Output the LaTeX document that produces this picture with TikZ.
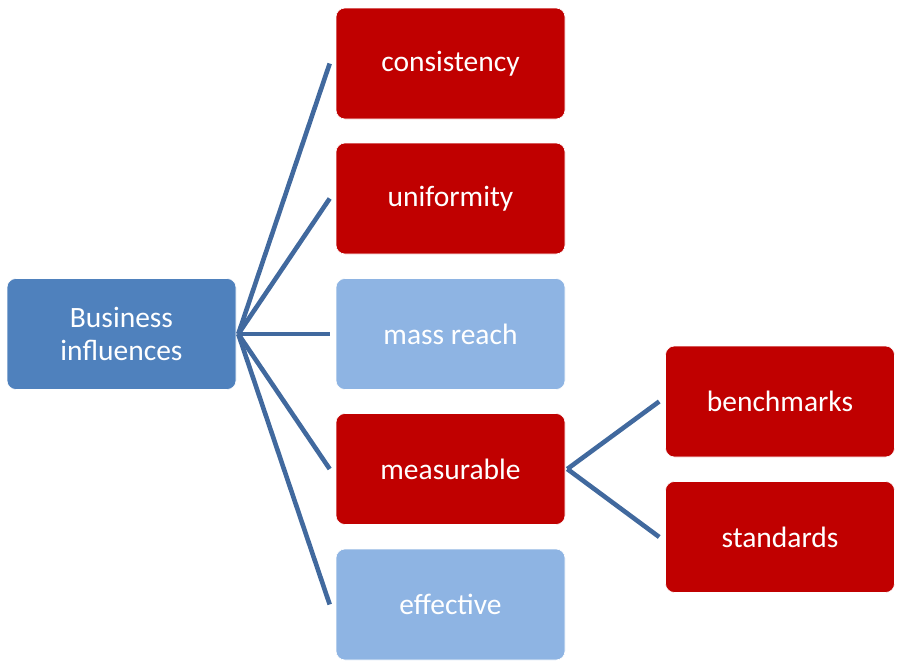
\documentclass[tikz,border=0pt]{standalone}
\usepackage{fontspec}
\setmainfont{Carlito}
\definecolor{parentblue}{HTML}{4F81BD}
\definecolor{darkred}{HTML}{C00000}
\definecolor{lightblue}{HTML}{8EB4E3}
\definecolor{linkblue}{HTML}{41699E}
\begin{document}
\begin{tikzpicture}[x=1pt,y=-1pt,
  box/.style={rounded corners=9pt, minimum width=229pt, minimum height=111pt, inner sep=0pt,
    draw=white, line width=0.6pt, text=white, align=center,
    font=\fontsize{29.5}{32.5}\selectfont},
  redbox/.style={box, fill=darkred},
  lightbox/.style={box, fill=lightblue},
  parentbox/.style={box, fill=parentblue},
  link/.style={draw=linkblue, line width=4.6pt}]
\useasboundingbox (0,0) rectangle (898,664);
\node[parentbox] (p) at (121.5,334) {Business\\influences};
\node[redbox] (c1) at (450.5,63.5) {consistency};
\node[redbox] (c2) at (450.5,198.5) {uniformity};
\node[lightbox] (c3) at (450.5,334) {mass reach};
\node[redbox] (c4) at (450.5,469) {measurable};
\node[lightbox] (c5) at (450.5,604.5) {effective};
\node[redbox] (g1) at (780,401.5) {benchmarks};
\node[redbox] (g2) at (780,537) {standards};
\coordinate (ps) at ([xshift=2pt]p.east);
\coordinate (cs) at ([xshift=2pt]c4.east);
\foreach \c in {c1,c2,c3,c4,c5}{
  \coordinate (\c e) at ([xshift=-6pt]\c.west);
  \draw[link] (ps) -- (\c e);
}
\foreach \g in {g1,g2}{
  \coordinate (\g e) at ([xshift=-6pt]\g.west);
  \draw[link] (cs) -- (\g e);
}
\end{tikzpicture}
\end{document}
